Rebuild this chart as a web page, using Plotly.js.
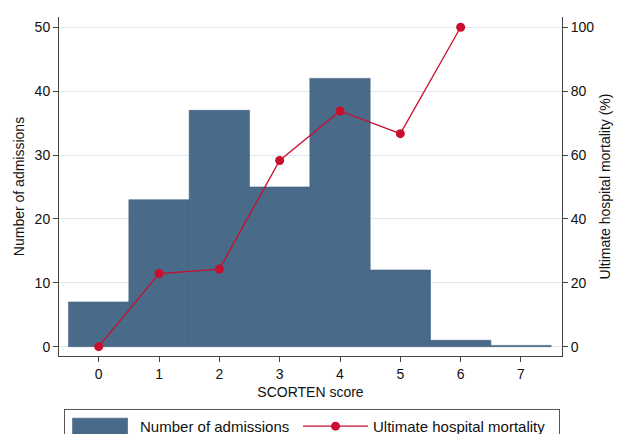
<!DOCTYPE html>
<html>
<head>
<meta charset="utf-8">
<script src="https://cdn.plot.ly/plotly-3.0.1.min.js"></script>
<style>html,body{margin:0;padding:0;background:#fff}#chart{width:621px;height:434px}</style>
</head>
<body>
<div id="chart"></div>
<script>
const scores = [0, 1, 2, 3, 4, 5, 6, 7];
const admissions = [7, 23, 37, 25, 42, 12, 1, 0.2];
const mortalityScores = [0, 1, 2, 3, 4, 5, 6];
const mortality = [0, 22.9, 24.3, 58.3, 73.8, 66.7, 100];
const leftTicks = [0, 10, 20, 30, 40, 50];
const rightTicks = [0, 20, 40, 60, 80, 100];
const xTicks = [0, 1, 2, 3, 4, 5, 6, 7];

const font = {family: 'Liberation Sans, Arial, sans-serif', size: 14, color: '#111'};
const legFont = {family: 'Liberation Sans, Arial, sans-serif', size: 15, color: '#111'};

const traces = [
  {
    type: 'bar', x: scores, y: admissions, name: 'Number of admissions',
    width: 1, marker: {color: '#4a6a8a', line: {color: '#41607f', width: 0.6}},
    yaxis: 'y', legendwidth: 153
  },
  {
    type: 'scatter', mode: 'lines+markers', x: mortalityScores, y: mortality,
    name: 'Ultimate hospital mortality',
    line: {color: '#c8102e', width: 1.3}, marker: {color: '#c8102e', size: 9},
    yaxis: 'y2', legendwidth: 181
  }
];

const layout = {
  width: 621, height: 434,
  margin: {l: 59, r: 59, t: 17, b: 78, autoexpand: false},
  paper_bgcolor: '#fff', plot_bgcolor: '#fff',
  font: font,
  showlegend: true,
  bargap: 0,
  xaxis: {
    range: [-0.658, 7.68], tickvals: xTicks, ticktext: xTicks.map(String),
    ticks: 'outside', ticklen: 5, tickcolor: '#444', showgrid: false, zeroline: false,
    showline: true, linecolor: '#444', linewidth: 1, mirror: false,
    title: {text: 'SCORTEN score', font: font, standoff: 6},
    tickfont: font
  },
  yaxis: {
    range: [-1.46, 51.61], tickvals: leftTicks, ticktext: leftTicks.map(String),
    ticks: 'outside', ticklen: 5, tickcolor: '#444', showgrid: true, gridcolor: '#dde7f3', gridwidth: 1,
    zeroline: false, showline: true, linecolor: '#444', linewidth: 1,
    title: {text: 'Number of admissions', font: font, standoff: 6},
    tickfont: font
  },
  yaxis2: {
    overlaying: 'y', side: 'right',
    range: [-2.92, 103.22], tickvals: rightTicks, ticktext: rightTicks.map(String),
    ticks: 'outside', ticklen: 5, tickcolor: '#444', showgrid: false, zeroline: false,
    showline: true, linecolor: '#444', linewidth: 1,
    title: {text: 'Ultimate hospital mortality (%)', font: font, standoff: 6},
    tickfont: font
  },
  legend: {
    orientation: 'h', x: 0.01, xanchor: 'left', y: -0.156, yanchor: 'top',
    bordercolor: '#555', borderwidth: 1, bgcolor: '#fff',
    font: legFont, itemwidth: 65, traceorder: 'normal'
  }
};

Plotly.newPlot('chart', traces, layout, {displayModeBar: false, staticPlot: true}).then(function(gd) {
  // widen the bar legend swatch to a rectangle like the reference
  const pts = gd.querySelectorAll('.legend .traces .legendpoints path.legendundefined, .legend .traces .legendbar path');
  pts.forEach(function(p) {
    p.setAttribute('d', 'M-30,-8h55v16h-55z');
  });
});
</script>
</body>
</html>
